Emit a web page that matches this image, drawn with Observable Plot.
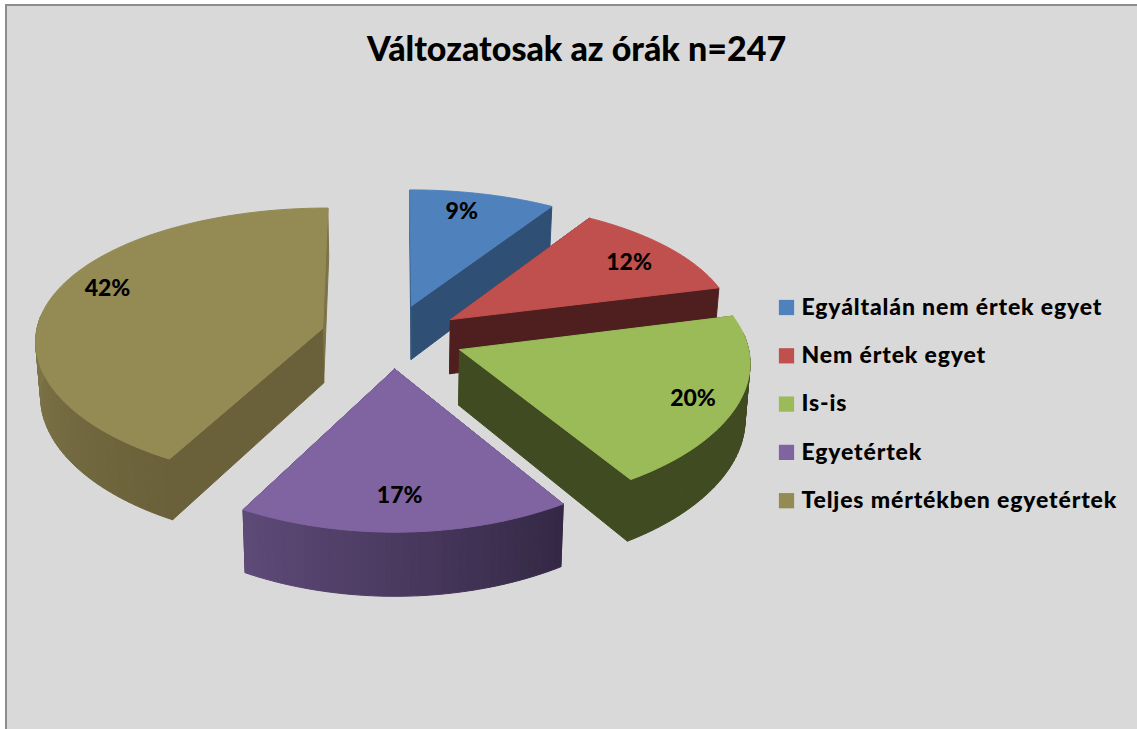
<!DOCTYPE html>
<html lang="hu">
<head>
<meta charset="utf-8">
<title>Változatosak az órák n=247</title>
<script src="https://cdn.jsdelivr.net/npm/d3@7"></script>
<script src="https://cdn.jsdelivr.net/npm/@observablehq/plot@0.6"></script>
<style>
  html, body { margin: 0; padding: 0; background: #fff; }
  svg { display: block; }
  .legend-text text { letter-spacing: 0.85px; }
</style>
</head>
<body>
<div id="chart"></div>
<script>
// ---- data ----
const titleText = "Változatosak az órák n=247";
const categories = ["Egyáltalán nem értek egyet", "Nem értek egyet", "Is-is", "Egyetértek", "Teljes mértékben egyetértek"];
const percents = [9, 12, 20, 17, 42];

// ---- styles ----
const topColors = ["#4f81bd", "#c0504d", "#9bbb59", "#8064a2", "#948a54"];
const cutWallColors = ["#34567f", "#4f1f1f", "#404b22", "#4a3a60", "#6a603a"];
const startWallColors = ["#2f4f75", "#4f1f1f", "#404b22", "#332845", "#7c7349"];
const rimFrom = ["#34567f", "#4f1f1f", "#404b22", "#332845", "#6a6039"];
const rimTo = ["#34567f", "#4f1f1f", "#404b22", "#5f4a78", "#857c4f"];
const paintOrder = [0, 1, 4, 2, 3];
const labelRadius = [0.82, 0.80, 0.85, 0.80, 0.835];
const labelTurn = [-2.5, 1.5, 2, 0.7, 7];
const sideShift = [0, 0.01, 0.009, 0, -0.012];
const lift = [0, 2, 1, -1, 0];

// ---- view of the tilted, exploded pie ----
const view = {cx: 392, cy: 336, r: 287, ry: 136, px: 0.08, py: 0.115, depth: 55, shrink: 0.986, explode: 0.24};
const rad = d => d * Math.PI / 180;

function project(u, v, lower = false, dy = 0) {
  const wx = 1 - view.px * v, wy = 1 - view.py * v;
  let x = view.r * u / wx, y = view.ry * v / wy + dy;
  if (lower) { x *= view.shrink; y += view.depth / wy; }
  return [view.cx + x, view.cy + y];
}

let cum = 0;
const slices = percents.map((p, i) => {
  const a0 = cum * 3.6; cum += p;
  const a1 = cum * 3.6, mid = (a0 + a1) / 2;
  return {i, a0, a1, mid, ox: view.explode * Math.sin(rad(mid)) + sideShift[i], oy: -view.explode * Math.cos(rad(mid))};
});
const rimPoint = (s, a, lower) => project(s.ox + Math.sin(rad(a)), s.oy - Math.cos(rad(a)), lower, lift[s.i]);
const apexPoint = (s, lower) => project(s.ox, s.oy, lower, lift[s.i]);

const polys = [];
let pid = 0;
function addPoly(points, color) {
  const id = pid++;
  for (const [x, y] of [...points, points[0]]) polys.push({id, x, y, color});
}
for (const i of paintOrder) {
  const s = slices[i];
  // the two cut walls, behind the rim
  addPoly([apexPoint(s, false), rimPoint(s, s.a1, false), rimPoint(s, s.a1, true), apexPoint(s, true)], startWallColors[i]);
  addPoly([apexPoint(s, false), rimPoint(s, s.a0, false), rimPoint(s, s.a0, true), apexPoint(s, true)], cutWallColors[i]);
  // outer wall, thin strips shaded along the angle
  const mix = d3.interpolateRgb(rimFrom[i], rimTo[i]);
  const step = 1.5, n = Math.max(1, Math.ceil((s.a1 - s.a0) / step));
  for (let k = 0; k < n; k++) {
    const b0 = s.a0 + (s.a1 - s.a0) * k / n, b1 = s.a0 + (s.a1 - s.a0) * (k + 1) / n;
    if (-Math.cos(rad((b0 + b1) / 2)) < -0.12) continue;
    addPoly([rimPoint(s, b0, false), rimPoint(s, b1, false), rimPoint(s, b1, true), rimPoint(s, b0, true)],
            mix(Math.min(1, (k + 0.5) / n * (i === 4 ? 1.8 : 1))));
  }
  // top face
  const top = [apexPoint(s, false)];
  for (let k = 0; k <= 90; k++) top.push(rimPoint(s, s.a0 + (s.a1 - s.a0) * k / 90, false));
  addPoly(top, topColors[i]);
}

const labels = slices.map(s => {
  const a = rad(s.mid + labelTurn[s.i]), r = labelRadius[s.i];
  const [x, y] = project(s.ox + r * Math.sin(a), s.oy - r * Math.cos(a), false, lift[s.i]);
  return {x, y, text: percents[s.i] + "%"};
});

const legendRows = categories.map((name, i) => ({name, i, color: topColors[i], y: 307 + i * 48.3}));

const font = "Lato, 'Open Sans', sans-serif";
const chart = Plot.plot({
  width: 1137, height: 729,
  marginTop: 0, marginRight: 0, marginBottom: 0, marginLeft: 0,
  x: {domain: [0, 1137], range: [0, 1137], axis: null},
  y: {domain: [0, 729], range: [0, 729], axis: null},
  color: {type: "identity"},
  style: {background: "#fff", fontFamily: font},
  marks: [
    Plot.rect([0], {x1: () => 6, x2: () => 1145, y1: () => 5, y2: () => 740, fill: "#d9d9d9", stroke: "#8c8c8c", strokeWidth: 2}),
    Plot.line(polys, {x: "x", y: "y", z: "id", fill: "color", stroke: "color", strokeWidth: 1, curve: "linear"}),
    Plot.text(labels, {x: "x", y: "y", text: "text", fontSize: 23, fontWeight: 900, fill: "#000"}),
    Plot.dot(legendRows, {x: () => 786, y: "y", symbol: "square", r: 8.6, fill: "color", stroke: null}),
    Plot.text(legendRows, {x: () => 801, y: "y", text: "name", textAnchor: "start", fontSize: 23, fontWeight: 900, fill: "#000", className: "legend-text"}),
    Plot.text([titleText], {x: () => 576, y: () => 50, text: d => d, fontSize: 34, fontWeight: 900, fill: "#000"})
  ]
});
document.getElementById("chart").appendChild(chart);
</script>
</body>
</html>
